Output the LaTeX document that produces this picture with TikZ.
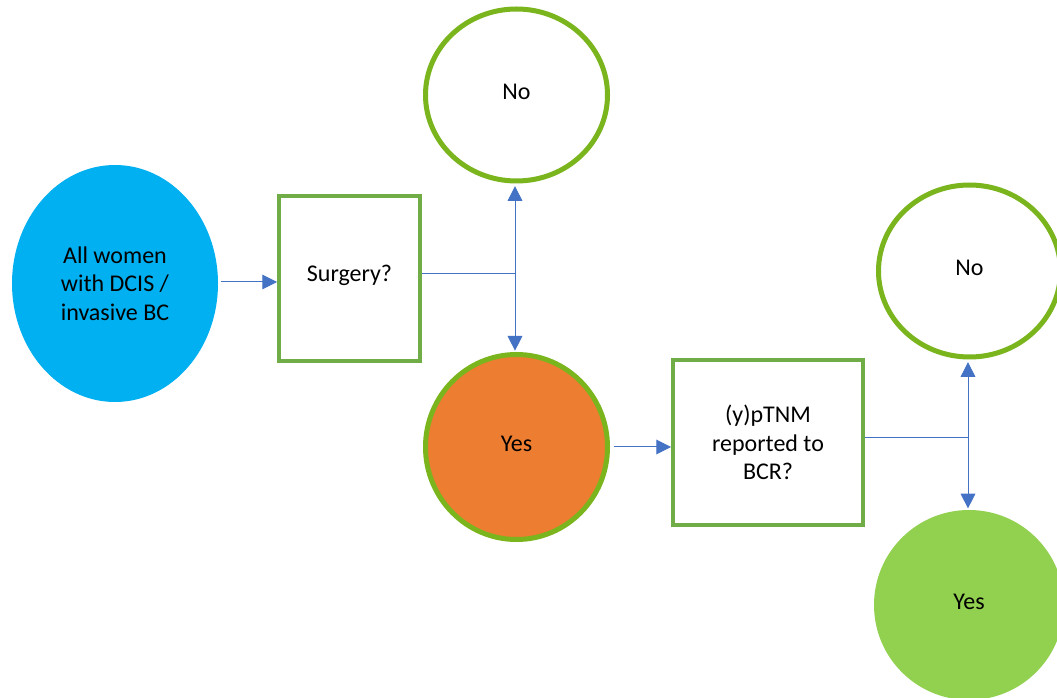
\documentclass[tikz,border=0pt]{standalone}
\usepackage{fontspec}
\setmainfont{Carlito}
\usetikzlibrary{arrows.meta,shapes.geometric}

\definecolor{cohortblue}{HTML}{00B0F0}
\definecolor{yesorange}{HTML}{ED7D31}
\definecolor{yesgreen}{HTML}{92D050}
\definecolor{ringgreen}{HTML}{7AB51D}
\definecolor{boxgreen}{HTML}{70AD47}
\definecolor{arrowblue}{HTML}{4472C4}

\tikzset{
  txt/.style={font=\fontsize{18}{21.4}\selectfont, align=center, text=black},
  answer/.style={ellipse, txt, inner sep=0pt, text depth=5pt, minimum width=136.5pt, minimum height=129pt},
  ring/.style={answer, draw=ringgreen, line width=3.75pt},
  question/.style={rectangle, txt, draw=boxgreen, line width=3pt, inner sep=0pt, minimum height=123.75pt},
  flow/.style={draw=arrowblue, line width=0.75pt},
  arr/.style={flow, -{Triangle[length=11pt,width=11pt]}}
}

\begin{document}
\begin{tikzpicture}[x=0.75pt,y=-0.75pt]
  \useasboundingbox[fill=white] (0,0) rectangle (1057,698);

  \node[ellipse, txt, fill=cohortblue, inner sep=0pt, minimum width=154.5pt, minimum height=177.75pt] (cohort) at (115,283.5) {All women\\with DCIS /\\invasive BC};
  \node[question, minimum width=105.75pt, text depth=8pt] (surgery) at (349.5,278.5) {Surgery?};
  \node[ring] (no1) at (516.5,95) {No};
  \node[ring, fill=yesorange, minimum height=138.75pt] (yes1) at (516.5,447) {Yes};
  \node[question, minimum width=142.5pt] (tnm) at (768,442.5) {(y)pTNM\\reported to\\BCR?};
  \node[ring] (no2) at (969.5,271) {No};
  \node[answer, fill=yesgreen, minimum width=142.5pt, minimum height=142.5pt] (yes2) at (969,605) {Yes};

  \coordinate (j1) at (515,274);
  \coordinate (j2) at (968,437.5);

  \draw[arr, shorten <=2pt] (cohort.east |- 0,282) -- (surgery.west |- 0,282);
  \draw[flow] (surgery.east |- j1) -- (j1);
  \draw[arr, shorten >=2pt] (j1) -- (j1 |- no1.south);
  \draw[arr, shorten >=1pt] (j1) -- (j1 |- yes1.north);

  \draw[arr, shorten <=3pt] (yes1.east |- 0,447) -- (tnm.west |- 0,447);
  \draw[flow] (tnm.east |- j2) -- (j2);
  \draw[arr, shorten >=2pt] (j2) -- (j2 |- no2.south);
  \draw[arr, shorten >=1pt] (j2) -- (j2 |- yes2.north);
\end{tikzpicture}
\end{document}
